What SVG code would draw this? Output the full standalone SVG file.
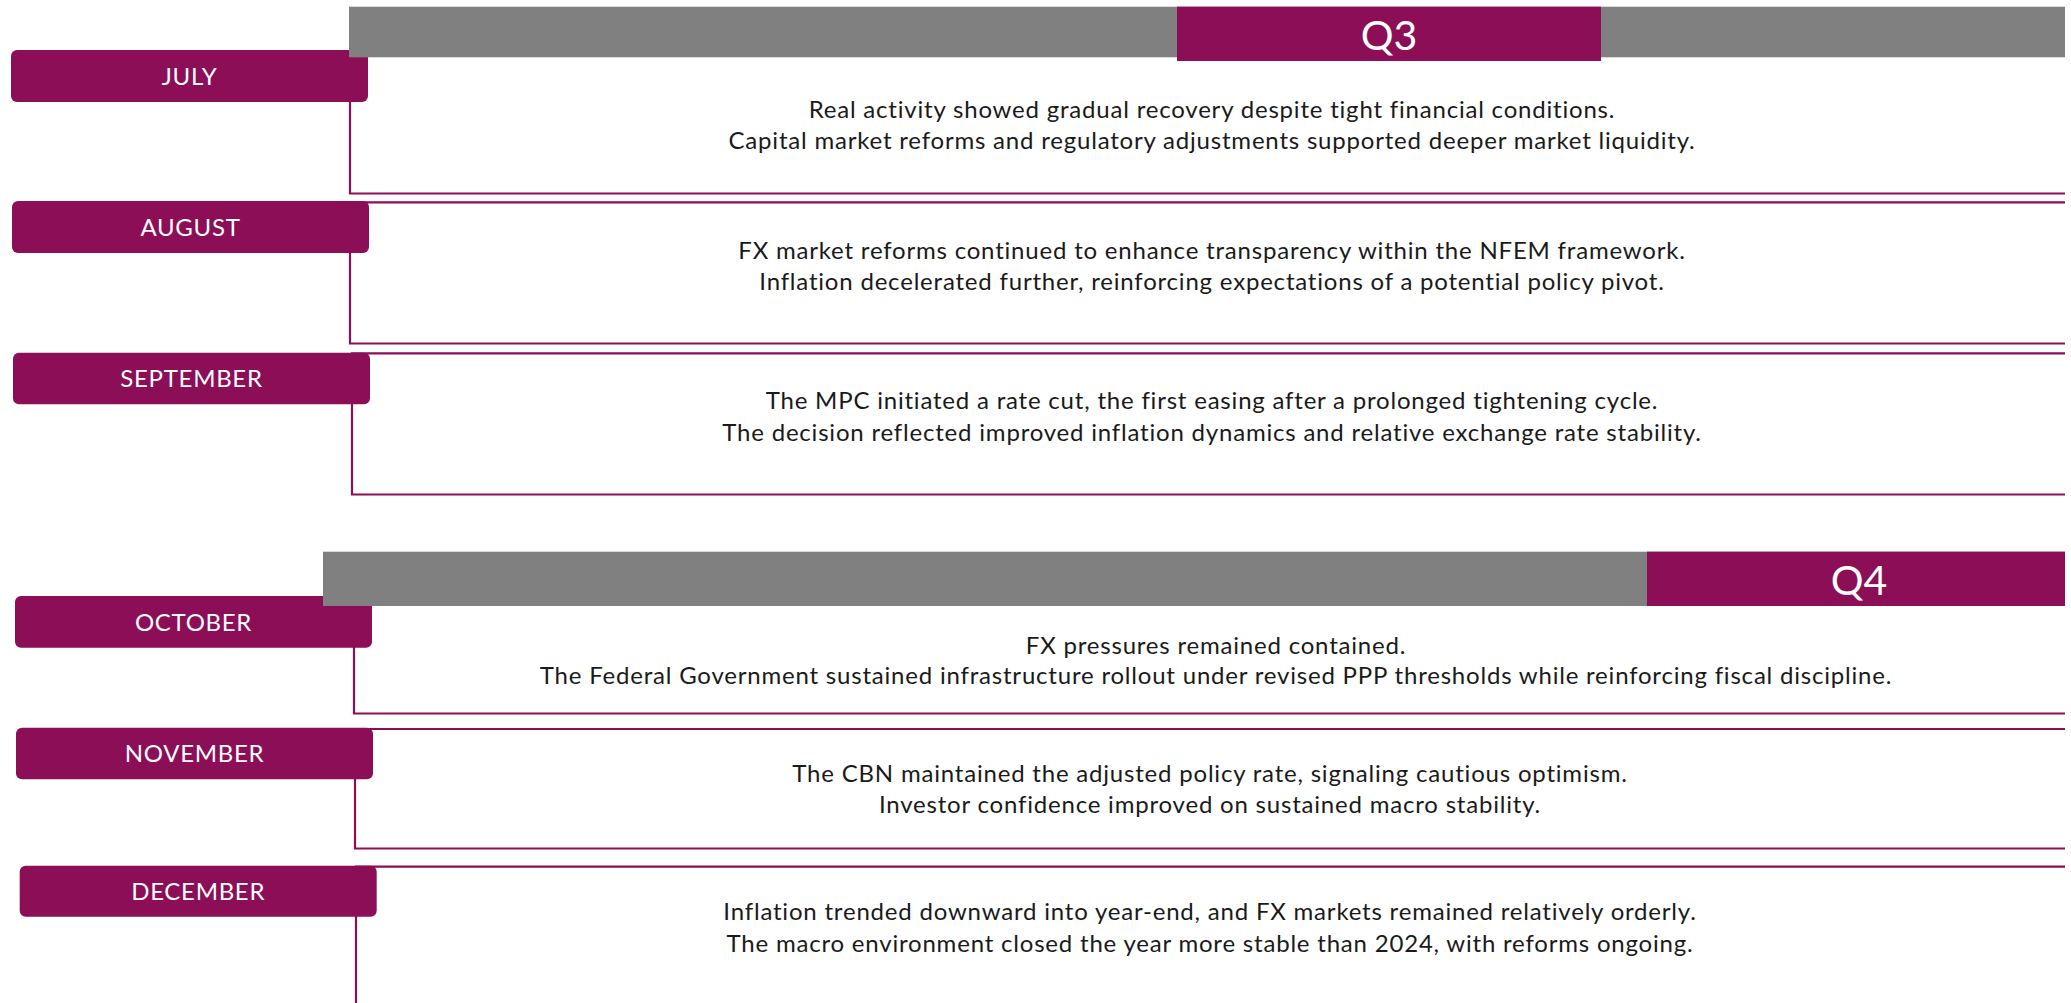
<svg xmlns="http://www.w3.org/2000/svg" width="2071" height="1003" viewBox="0 0 2071 1003">
  <style>
    .bar { fill: #808080; }
    .qbox { fill: #8B0E57; }
    .qtxt { font-family: Lato, "Open Sans", sans-serif; font-size: 41px; fill: #ffffff; text-anchor: middle; }
    .pill { fill: #8B0E57; }
    .mtxt { font-family: Lato, "Open Sans", sans-serif; font-size: 24px; fill: #ffffff; text-anchor: middle; letter-spacing: 0.7px; }
    .frame { fill: none; stroke: #8B0E57; stroke-width: 2.2; }
    .body { font-family: Lato, "Open Sans", sans-serif; font-size: 24px; fill: #1a1a1a; text-anchor: middle; letter-spacing: 0.8px; }
  </style>
  <rect width="2071" height="1003" fill="#ffffff"/>

  <g id="frames">
    <path class="frame" d="M350 57 V193.5 H2065"/>
    <path class="frame" d="M2065 202.3 H350 V343.5 H2065"/>
    <path class="frame" d="M2065 353.3 H352 V494.5 H2065"/>
    <path class="frame" d="M354 606 V713.5 H2065"/>
    <path class="frame" d="M2065 729 H355 V848.5 H2065"/>
    <path class="frame" d="M2065 866.7 H356 V1003"/>
  </g>

  <g id="jul">
    <rect class="pill" x="11" y="50" width="357" height="52" rx="6"/>
    <text class="mtxt" x="189.5" y="84.5">JULY</text>
    <text class="body" x="1212" y="118.3">Real activity showed gradual recovery despite tight financial conditions.</text>
    <text class="body" x="1212" y="149.3">Capital market reforms and regulatory adjustments supported deeper market liquidity.</text>
  </g>

  <g id="q3">
    <rect class="bar" x="349" y="6.7" width="1716" height="50.6"/>
    <rect class="qbox" x="1177" y="6.7" width="424" height="54.3"/>
    <text class="qtxt" x="1389" y="50">Q3</text>
  </g>

  <g id="aug">
    <rect class="pill" x="12" y="201" width="357" height="52" rx="6"/>
    <text class="mtxt" x="190.5" y="235.5">AUGUST</text>
    <text class="body" x="1212" y="259">FX market reforms continued to enhance transparency within the NFEM framework.</text>
    <text class="body" x="1212" y="290">Inflation decelerated further, reinforcing expectations of a potential policy pivot.</text>
  </g>

  <g id="sep">
    <rect class="pill" x="13" y="352.7" width="357" height="51.6" rx="6"/>
    <text class="mtxt" x="191.5" y="387">SEPTEMBER</text>
    <text class="body" x="1212" y="409">The MPC initiated a rate cut, the first easing after a prolonged tightening cycle.</text>
    <text class="body" x="1212" y="441">The decision reflected improved inflation dynamics and relative exchange rate stability.</text>
  </g>

  <g id="oct">
    <rect class="pill" x="15" y="596" width="357" height="51.7" rx="6"/>
    <text class="mtxt" x="193.5" y="630.5">OCTOBER</text>
    <text class="body" x="1216" y="653.5">FX pressures remained contained.</text>
    <text class="body" x="1216" y="684">The Federal Government sustained infrastructure rollout under revised PPP thresholds while reinforcing fiscal discipline.</text>
  </g>

  <g id="q4">
    <rect class="bar" x="323" y="551.7" width="1742" height="54.3"/>
    <rect class="qbox" x="1647" y="551.7" width="418" height="54.3"/>
    <text class="qtxt" x="1859" y="595">Q4</text>
  </g>

  <g id="nov">
    <rect class="pill" x="16" y="727.7" width="357" height="51.6" rx="6"/>
    <text class="mtxt" x="194.5" y="762">NOVEMBER</text>
    <text class="body" x="1210" y="782">The CBN maintained the adjusted policy rate, signaling cautious optimism.</text>
    <text class="body" x="1210" y="813">Investor confidence improved on sustained macro stability.</text>
  </g>

  <g id="dec">
    <rect class="pill" x="19.7" y="865.7" width="357" height="51" rx="6"/>
    <text class="mtxt" x="198.2" y="900">DECEMBER</text>
    <text class="body" x="1210" y="920">Inflation trended downward into year-end, and FX markets remained relatively orderly.</text>
    <text class="body" x="1210" y="952">The macro environment closed the year more stable than 2024, with reforms ongoing.</text>
  </g>
</svg>
